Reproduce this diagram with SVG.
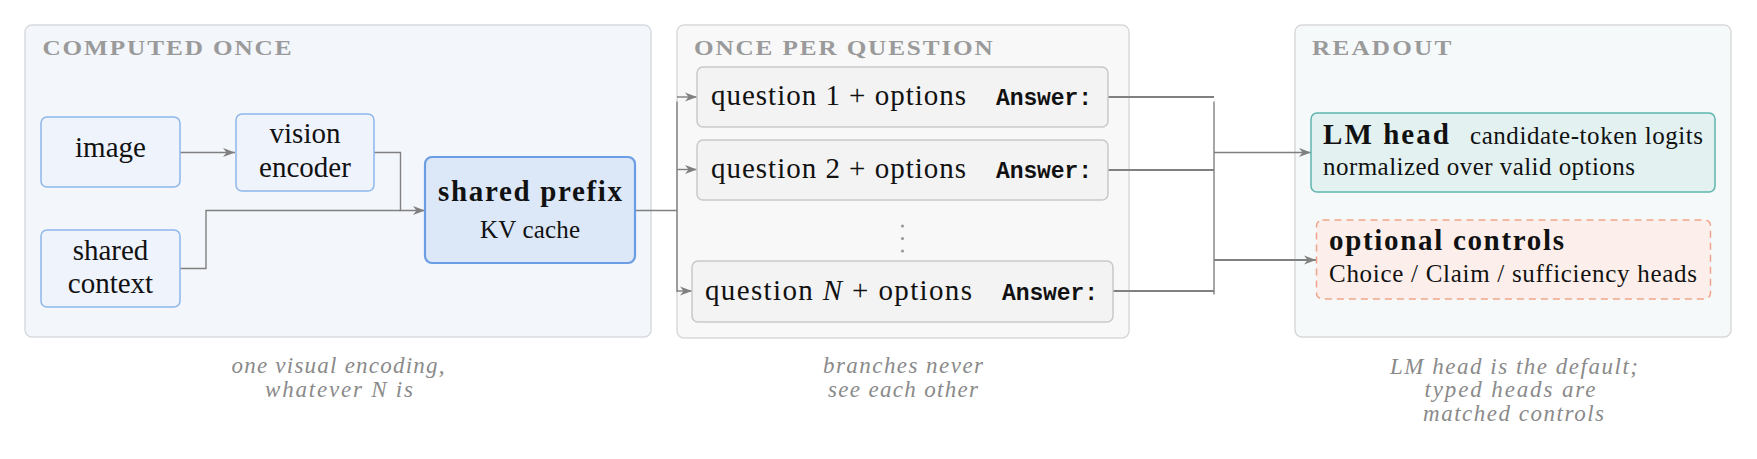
<svg xmlns="http://www.w3.org/2000/svg" width="1757" height="459" viewBox="0 0 1757 459">
<defs>
<marker id="arr" markerUnits="userSpaceOnUse" markerWidth="13" markerHeight="10" viewBox="0 0 13 10" refX="12" refY="5" orient="auto">
<path d="M0,0.5 L12,5 L0,9.5 L3.5,5 Z" fill="#808080"/>
</marker>
</defs>
<style>
.panel{stroke-width:1.5}
.title{font-family:"Liberation Serif",serif;font-weight:bold;font-size:21px;fill:#9a9a9a}
.node{fill:#eef3fc;stroke:#8fb7ec;stroke-width:1.5}
.q{fill:#f3f3f3;stroke:#c9c9c9;stroke-width:1.5}
.t{font-family:"Liberation Serif",serif;font-size:29px;fill:#111}
.b{font-family:"Liberation Serif",serif;font-weight:bold;font-size:29px;fill:#111}
.s{font-family:"Liberation Serif",serif;font-size:25px;fill:#111}
.m{font-family:"Liberation Mono",monospace;font-weight:bold;font-size:23px;fill:#111}
.cap{font-family:"Liberation Serif",serif;font-style:italic;font-size:23px;fill:#8a8a8a}
.c{fill:none;stroke:#808080;stroke-width:1.4}
.c2{fill:none;stroke:#808080;stroke-width:2.2}
</style>

<g id="panel-computed-once">
<rect class="panel" x="25" y="25" width="626" height="312" rx="7" fill="#f3f6fb" stroke="#d7dadf"/>
<text class="title" transform="translate(42.5,55) scale(1.2,1)" textLength="207.5" lengthAdjust="spacing">COMPUTED ONCE</text>
</g>
<g id="panel-once-per-question">
<rect class="panel" x="677" y="25" width="452" height="313" rx="7" fill="#f8f8f8" stroke="#d9d9d9"/>
<text class="title" transform="translate(694,55) scale(1.2,1)" textLength="249" lengthAdjust="spacing">ONCE PER QUESTION</text>
</g>
<g id="panel-readout">
<rect class="panel" x="1295" y="25" width="436" height="312" rx="7" fill="#f6f9fa" stroke="#d9d9d9"/>
<text class="title" transform="translate(1312,55) scale(1.2,1)" textLength="116" lengthAdjust="spacing">READOUT</text>
</g>

<g id="connectors">
<path class="c" d="M180,152.5 H235" marker-end="url(#arr)"/>
<path class="c" d="M374,152.5 H400.5 V210.5 H425" marker-end="url(#arr)"/>
<path class="c" d="M180,268.5 H206 V210.5 H400.5"/>
<path class="c" d="M635,210.5 H677"/>
<path class="c" d="M677,101.5 V292"/>
<path class="c" d="M677,97 H697" marker-end="url(#arr)"/>
<path class="c" d="M677,169.5 H697" marker-end="url(#arr)"/>
<path class="c" d="M677,291 H692" marker-end="url(#arr)"/>
<path class="c2" d="M1108,97 H1214"/>
<path class="c2" d="M1108,170 H1214"/>
<path class="c2" d="M1113,291 H1214"/>
<path class="c" d="M1214,101.5 V294.5"/>
<path class="c" d="M1214,152.5 H1311" marker-end="url(#arr)"/>
<path class="c2" d="M1214,260 H1316" marker-end="url(#arr)"/>
</g>

<g id="node-image">
<rect class="node" x="41" y="117" width="139" height="70" rx="6"/>
<text class="t" x="110.5" y="157" text-anchor="middle">image</text>
</g>
<g id="node-vision-encoder">
<rect class="node" x="236" y="114" width="138" height="77" rx="6"/>
<text class="t" x="305" y="143" text-anchor="middle">vision</text>
<text class="t" x="305" y="177" text-anchor="middle">encoder</text>
</g>
<g id="node-shared-context">
<rect class="node" x="41" y="230" width="139" height="77" rx="6"/>
<text class="t" x="110.5" y="260" text-anchor="middle">shared</text>
<text class="t" x="110.5" y="293" text-anchor="middle">context</text>
</g>
<g id="node-shared-prefix">
<rect x="425" y="157" width="210" height="106" rx="7" fill="#dce8f8" stroke="#6a9de3" stroke-width="2.2"/>
<text class="b" x="530" y="201" text-anchor="middle" textLength="184" lengthAdjust="spacing">shared prefix</text>
<text class="s" x="530" y="238" text-anchor="middle" font-size="23" textLength="100" lengthAdjust="spacing">KV cache</text>
</g>

<g id="node-question-1">
<rect class="q" x="697" y="67" width="411" height="60" rx="6"/>
<text class="t" x="711" y="105" textLength="255" lengthAdjust="spacing">question 1 + options</text>
<text class="m" x="996" y="105" textLength="96" lengthAdjust="spacing">Answer:</text>
</g>
<g id="node-question-2">
<rect class="q" x="697" y="140" width="411" height="60" rx="6"/>
<text class="t" x="711" y="178" textLength="255" lengthAdjust="spacing">question 2 + options</text>
<text class="m" x="996" y="178" textLength="96" lengthAdjust="spacing">Answer:</text>
</g>
<g id="ellipsis">
<circle cx="902.5" cy="226" r="1.6" fill="#9a9a9a"/>
<circle cx="902.5" cy="238.5" r="1.6" fill="#9a9a9a"/>
<circle cx="902.5" cy="251" r="1.6" fill="#9a9a9a"/>
</g>
<g id="node-question-n">
<rect class="q" x="692" y="261" width="421" height="61" rx="6"/>
<text class="t" x="705" y="300" textLength="267" lengthAdjust="spacing">question <tspan font-style="italic">N</tspan> + options</text>
<text class="m" x="1002" y="300" textLength="96" lengthAdjust="spacing">Answer:</text>
</g>

<g id="node-lm-head">
<rect x="1311" y="113" width="404" height="79" rx="6" fill="#e3f2f1" stroke="#5db5af" stroke-width="1.5"/>
<text class="b" x="1323" y="144" textLength="126" lengthAdjust="spacing">LM head</text>
<text class="s" x="1470" y="144" textLength="233" lengthAdjust="spacing">candidate-token logits</text>
<text class="s" x="1323" y="175" textLength="312" lengthAdjust="spacing">normalized over valid options</text>
</g>
<g id="node-optional-controls">
<rect x="1316.5" y="220" width="394" height="79" rx="6" fill="#fcefeb" stroke="#f0a58b" stroke-width="1.5" stroke-dasharray="7,5"/>
<text class="b" x="1329" y="250" textLength="235" lengthAdjust="spacing">optional controls</text>
<text class="s" x="1329" y="282" textLength="368" lengthAdjust="spacing">Choice / Claim / sufficiency heads</text>
</g>

<g id="captions">
<text class="cap" x="338" y="373" text-anchor="middle" textLength="213" lengthAdjust="spacing">one visual encoding,</text>
<text class="cap" x="339" y="396.5" text-anchor="middle" textLength="148" lengthAdjust="spacing">whatever N is</text>
<text class="cap" x="903" y="373" text-anchor="middle" textLength="160" lengthAdjust="spacing">branches never</text>
<text class="cap" x="903" y="396.5" text-anchor="middle" textLength="150" lengthAdjust="spacing">see each other</text>
<text class="cap" x="1514" y="373.5" text-anchor="middle" textLength="248" lengthAdjust="spacing">LM head is the default;</text>
<text class="cap" x="1510" y="397" text-anchor="middle" textLength="171" lengthAdjust="spacing">typed heads are</text>
<text class="cap" x="1513.5" y="420.5" text-anchor="middle" textLength="181" lengthAdjust="spacing">matched controls</text>
</g>
</svg>
